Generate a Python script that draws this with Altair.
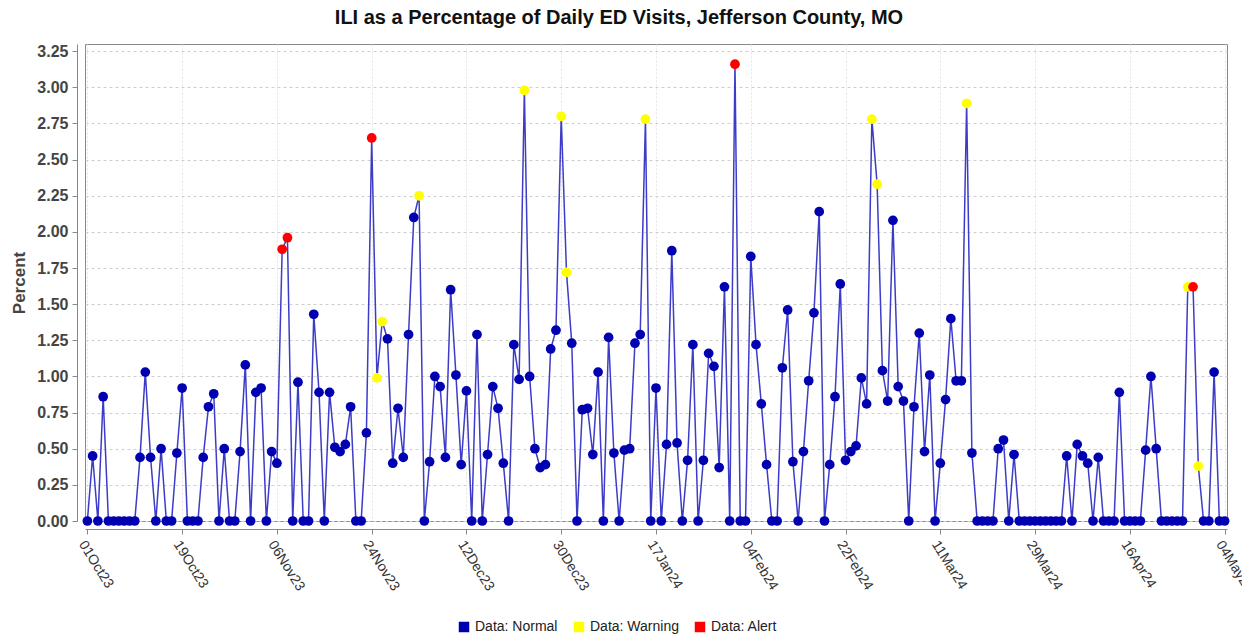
import altair as alt
import pandas as pd

TITLE = "ILI as a Percentage of Daily ED Visits, Jefferson County, MO"

# daily values, 01Oct23 (day 0) .. 04May24 (day 216)
VALUES = [
    0, 0.45, 0, 0.86, 0, 0, 0, 0, 0, 0,              # 0-9
    0.44, 1.03, 0.44, 0, 0.50, 0, 0, 0.47, 0.92, 0,  # 10-19
    0, 0, 0.44, 0.79, 0.88, 0, 0.50, 0, 0, 0.48,     # 20-29
    1.08, 0, 0.89, 0.92, 0, 0.48, 0.40, 1.88, 1.96, 0,  # 30-39
    0.96, 0, 0, 1.43, 0.89, 0, 0.89, 0.51, 0.48, 0.53,  # 40-49
    0.79, 0, 0, 0.61, 2.65, 0.99, 1.38, 1.26, 0.40, 0.78,  # 50-59
    0.44, 1.29, 2.10, 2.25, 0, 0.41, 1.00, 0.93, 0.44, 1.60,  # 60-69
    1.01, 0.39, 0.90, 0, 1.29, 0, 0.46, 0.93, 0.78, 0.40,  # 70-79
    0, 1.22, 0.98, 2.98, 1.00, 0.50, 0.37, 0.39, 1.19, 1.32,  # 80-89
    2.80, 1.72, 1.23, 0, 0.77, 0.78, 0.46, 1.03, 0, 1.27,  # 90-99
    0.47, 0, 0.49, 0.50, 1.23, 1.29, 2.78, 0, 0.92, 0,  # 100-109
    0.53, 1.87, 0.54, 0, 0.42, 1.22, 0, 0.42, 1.16, 1.07,  # 110-119
    0.37, 1.62, 0, 3.16, 0, 0, 1.83, 1.22, 0.81, 0.39,  # 120-129
    0, 0, 1.06, 1.46, 0.41, 0, 0.48, 0.97, 1.44, 2.14,  # 130-139
    0, 0.39, 0.86, 1.64, 0.42, 0.48, 0.52, 0.99, 0.81, 2.78,  # 140-149
    2.33, 1.04, 0.83, 2.08, 0.93, 0.83, 0, 0.79, 1.30, 0.48,  # 150-159
    1.01, 0, 0.40, 0.84, 1.40, 0.97, 0.97, 2.89, 0.47, 0,  # 160-169
    0, 0, 0, 0.50, 0.56, 0, 0.46, 0, 0, 0,           # 170-179
    0, 0, 0, 0, 0, 0, 0.45, 0, 0.53, 0.45,           # 180-189
    0.40, 0, 0.44, 0, 0, 0, 0.89, 0, 0, 0,           # 190-199
    0, 0.49, 1.00, 0.50, 0, 0, 0, 0, 0, 1.62,        # 200-209
    1.62, 0.38, 0, 0, 1.03, 0, 0,                    # 210-216
]
WARNING_DAYS = [55, 56, 63, 83, 90, 91, 106, 149, 150, 167, 209, 211]
ALERT_DAYS = [37, 38, 54, 123, 210]

STATUS_NAMES = ["Data: Normal", "Data: Warning", "Data: Alert"]
STATUS_COLORS = ["#0000B0", "#FFFF00", "#FF0000"]

TICK_DAYS = [0, 18, 36, 54, 72, 90, 108, 126, 144, 162, 180, 198, 216]
TICK_LABELS = ["01Oct23", "19Oct23", "06Nov23", "24Nov23", "12Dec23", "30Dec23",
               "17Jan24", "04Feb24", "22Feb24", "11Mar24", "29Mar24", "16Apr24", "04May24"]
Y_TICKS = [0, 0.25, 0.5, 0.75, 1.0, 1.25, 1.5, 1.75, 2.0, 2.25, 2.5, 2.75, 3.0, 3.25]

status = []
for i in range(len(VALUES)):
    if i in ALERT_DAYS:
        status.append(STATUS_NAMES[2])
    elif i in WARNING_DAYS:
        status.append(STATUS_NAMES[1])
    else:
        status.append(STATUS_NAMES[0])

df = pd.DataFrame({"day": list(range(len(VALUES))), "pct": VALUES, "status": status})

label_expr = "[" + ",".join("'%s'" % s for s in TICK_LABELS) + "][round(datum.value/18)]"

x_enc = alt.X(
    "day:Q",
    scale=alt.Scale(domain=[-0.45, 216.45], nice=False, zero=False),
    axis=alt.Axis(
        values=TICK_DAYS, labelExpr=label_expr, title=None,
        labelAngle=58, labelAlign="left", labelBaseline="top",
        labelFontSize=14, labelColor="#333333", labelPadding=4,
        offset=8, tickSize=5, tickColor="#888888", domainColor="#888888",
        grid=True, gridColor="#e4e4e4", gridDash=[2, 2],
    ),
)
y_enc = alt.Y(
    "pct:Q",
    scale=alt.Scale(domain=[0, 3.30], nice=False),
    axis=alt.Axis(
        values=Y_TICKS, format=".2f", title="Percent",
        titleFontSize=17, titleFontWeight="bold", titleColor="#444444", titlePadding=8,
        labelFontSize=16, labelFontWeight="bold", labelColor="#444444", labelPadding=4,
        offset=8, tickSize=5, tickColor="#888888", domainColor="#888888",
        grid=True, gridColor="#cfcfcf", gridDash=[3, 3],
    ),
)

line = alt.Chart(df).mark_line(color="#3c3cc8", strokeWidth=1.5).encode(x=x_enc, y=y_enc)

points = alt.Chart(df).mark_circle(size=95, opacity=1).encode(
    x=x_enc,
    y=y_enc,
    color=alt.Color(
        "status:N",
        scale=alt.Scale(domain=STATUS_NAMES, range=STATUS_COLORS),
        legend=alt.Legend(
            title=None, orient="none", legendX=372, legendY=576, direction="horizontal",
            symbolType="square", symbolSize=110, symbolStrokeWidth=0, symbolOpacity=1,
            labelFontSize=14, labelColor="#222222", columnPadding=14, labelOffset=4,
        ),
    ),
)

chart = alt.layer(line, points).properties(
    width=1142,
    height=477,
    padding={"left": 77, "top": 36, "right": 15, "bottom": 118},
    autosize=alt.AutoSizeParams(type="none"),
    title=alt.TitleParams(
        TITLE, fontSize=20, fontWeight="bold", color="#111111", offset=15, dx=-37,
        anchor="middle",
    ),
).configure(
    font="Liberation Sans",
).configure_view(
    stroke="#888888", strokeWidth=1,
)

chart.save("out.html", embed_options={"renderer": "svg", "actions": False})
